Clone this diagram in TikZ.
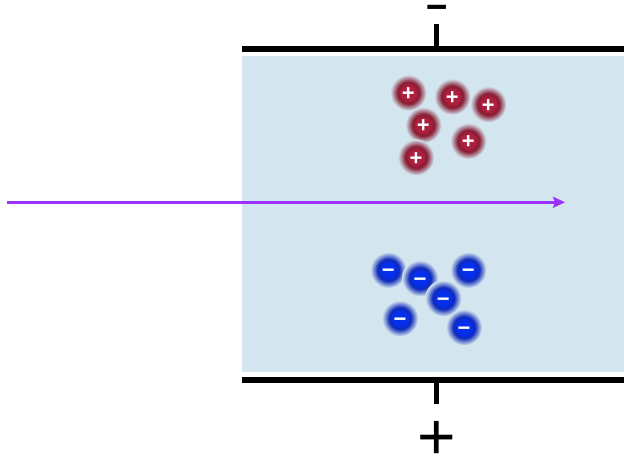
\documentclass[tikz,border=0pt]{standalone}
\usepackage{fontspec}
\setmainfont{Liberation Sans}
\usetikzlibrary{arrows.meta}
\definecolor{bgblue}{RGB}{211,230,239}
\definecolor{redcore}{RGB}{172,32,62}
\definecolor{redrim}{RGB}{135,26,50}
\definecolor{bluecore}{RGB}{5,48,235}
\definecolor{bluerim}{RGB}{15,40,185}
\definecolor{beam}{RGB}{155,48,255}
\pgfdeclareradialshading{redball}{\pgfpoint{0bp}{0bp}}{color(0bp)=(redcore); color(10bp)=(redcore); color(15bp)=(redrim); color(25bp)=(bgblue); color(50bp)=(bgblue)}
\pgfdeclareradialshading{blueball}{\pgfpoint{0bp}{0bp}}{color(0bp)=(bluecore); color(10bp)=(bluecore); color(15bp)=(bluerim); color(25bp)=(bgblue); color(50bp)=(bgblue)}
\tikzset{
  plate/.style={line width=6pt},
  stem/.style={line width=5pt},
  ion/.style={circle, minimum size=36pt, inner sep=0pt, text=white, text height=15.5pt, text depth=0pt, font=\bfseries\fontsize{22}{22}\selectfont},
  pion/.style={ion, shading=redball},
  nion/.style={ion, shading=blueball},
  sign/.style={inner sep=0pt, text depth=0pt},
  beamarrow/.style={draw=beam, line width=2.5pt, -{Stealth[length=12pt,width=11pt,inset=2pt]}}
}
\begin{document}
\begin{tikzpicture}[x=1pt,y=-1pt]
\useasboundingbox (0,0) rectangle (624,456);
% gap region
\fill[bgblue] (242,55.5) rectangle (624,372);
% plates
\coordinate (tl) at (242,48.5); \coordinate (tr) at (624,48.5);
\coordinate (ttop) at (436.5,24); \coordinate (tbot) at (436.5,46);
\coordinate (bl) at (242,379.5); \coordinate (br) at (624,379.5);
\coordinate (btop) at (436.5,381); \coordinate (bbot) at (436.5,403.5);
\draw[plate] (tl) -- (tr);
\draw[stem] (ttop) -- (tbot);
\draw[plate] (bl) -- (br);
\draw[stem] (btop) -- (bbot);
\node[sign, text height=25.3pt, font=\fontsize{76}{76}\selectfont] (minus) at (437,9) {\scalebox{1}[0.7]{-}};
\node[sign, text height=46.6pt, font=\fontsize{66}{66}\selectfont] (plus) at (436.5,436) {+};
% beam
\coordinate (src) at (7,202.3);
\coordinate (dst) at (565,202.3);
\draw[beamarrow] (src) -- (dst);
% positive ions
\node[pion] (p1) at (408.3,92.7) {+};
\node[pion] (p2) at (452.3,96.7) {+};
\node[pion] (p3) at (488.3,104.3) {+};
\node[pion] (p4) at (423.3,125) {+};
\node[pion] (p5) at (468.3,141) {+};
\node[pion] (p6) at (416,157.3) {+};
% negative ions
\node[nion] (n1) at (388.3,270) {−};
\node[nion] (n2) at (420,278.3) {−};
\node[nion] (n3) at (468.3,270) {−};
\node[nion] (n4) at (443.3,298.3) {−};
\node[nion] (n5) at (400,318.3) {−};
\node[nion] (n6) at (464,327.3) {−};
\end{tikzpicture}
\end{document}
